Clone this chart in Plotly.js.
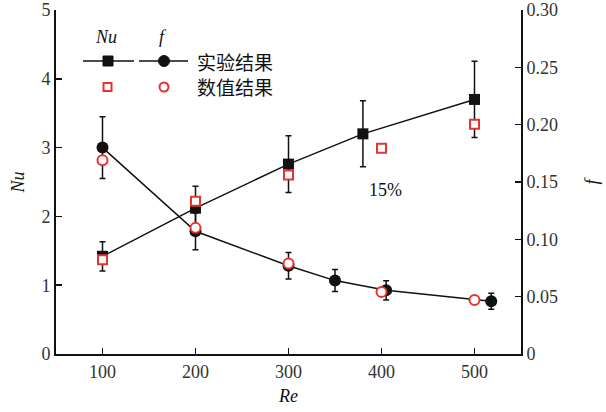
<!DOCTYPE html>
<html>
<head>
<meta charset="utf-8">
<script src="https://cdn.plot.ly/plotly-3.0.1.min.js"></script>
<style>html,body{margin:0;padding:0;background:#fff;}#chart{width:606px;height:412px;}</style>
</head>
<body>
<div id="chart"></div>
<script>
// Data
const reNuExp = [100, 200, 300, 380, 500];
const nuExp   = [1.42, 2.12, 2.76, 3.20, 3.70];
const reNuNum = [100, 200, 300, 400, 500];
const nuNum   = [1.37, 2.22, 2.60, 2.99, 3.34];
const reFExp  = [100, 200, 300, 350, 405, 518];
const fExp    = [0.180, 0.107, 0.077, 0.064, 0.0555, 0.046];
const reFNum  = [100, 200, 300, 400, 500];
const fNum    = [0.169, 0.110, 0.079, 0.054, 0.047];
const xTicks  = [100, 200, 300, 400, 500];
const yTicks  = [0, 1, 2, 3, 4, 5];
const y2Ticks = [0, 0.05, 0.10, 0.15, 0.20, 0.25, 0.30];
const y2Text  = ['0', '0.05', '0.10', '0.15', '0.20', '0.25', '0.30'];
const errPct  = 15;

const RED = '#e8322e';
const SERIF = 'Liberation Serif';
const CJK = 'Noto Sans CJK SC';

const errStyle = {type: 'percent', value: errPct, color: '#111', thickness: 1.5, width: 3};

const traces = [
  {x: reNuExp, y: nuExp, type: 'scatter', mode: 'lines+markers', yaxis: 'y',
   line: {color: '#111', width: 1.5},
   marker: {symbol: 'square', size: 11, color: '#111'},
   error_y: errStyle, showlegend: false},
  {x: reFExp, y: fExp, type: 'scatter', mode: 'lines+markers', yaxis: 'y2',
   line: {color: '#111', width: 1.5},
   marker: {symbol: 'circle', size: 12, color: '#111'},
   error_y: errStyle, showlegend: false},
  {x: reNuNum, y: nuNum, type: 'scatter', mode: 'markers', yaxis: 'y',
   marker: {symbol: 'square', size: 9, color: '#fff', line: {color: RED, width: 2}},
   showlegend: false},
  {x: reFNum, y: fNum, type: 'scatter', mode: 'markers', yaxis: 'y2',
   marker: {symbol: 'circle', size: 10, color: '#fff', line: {color: RED, width: 2}},
   showlegend: false}
];

// legend drawn in pixel positions converted to paper coords
const L = 56, R = 521, T = 10, B = 354;
const px = v => (v - L) / (R - L);
const py = v => (B - v) / (B - T);

const shapes = [
  {type: 'line', xref: 'paper', yref: 'paper', x0: px(83), x1: px(134), y0: py(61), y1: py(61), line: {color: '#111', width: 1.5}},
  {type: 'line', xref: 'paper', yref: 'paper', x0: px(139), x1: px(188), y0: py(61), y1: py(61), line: {color: '#111', width: 1.5}},
  {type: 'rect', xref: 'paper', yref: 'paper', x0: px(103), x1: px(113), y0: py(56), y1: py(66), fillcolor: '#111', line: {color: '#111', width: 1}},
  {type: 'circle', xref: 'paper', yref: 'paper', x0: px(158.5), x1: px(169.5), y0: py(55.5), y1: py(66.5), fillcolor: '#111', line: {color: '#111', width: 1}},
  {type: 'rect', xref: 'paper', yref: 'paper', x0: px(103.5), x1: px(111.5), y0: py(83), y1: py(91), fillcolor: '#fff', line: {color: RED, width: 2}},
  {type: 'circle', xref: 'paper', yref: 'paper', x0: px(159.5), x1: px(168.5), y0: py(82.5), y1: py(91.5), fillcolor: '#fff', line: {color: RED, width: 2}}
];

const ann = (x, y, text, font, xa) => ({xref: 'paper', yref: 'paper', x: px(x), y: py(y), text: text,
  showarrow: false, xanchor: xa || 'center', yanchor: 'middle', font: font});

const fSerif = {family: SERIF, size: 18, color: '#111'};
const fCjk = {family: CJK, size: 19, color: '#111'};

const annotations = [
  ann(106, 37, '<i>Nu</i>', fSerif),
  ann(163, 37, '<i>f</i>', fSerif),
  ann(195, 61, '实验结果', fCjk, 'left'),
  ann(195, 87, '数值结果', fCjk, 'left'),
  {xref: 'x', yref: 'y', x: 404, y: 2.38, text: '15%', showarrow: false,
   xanchor: 'center', yanchor: 'middle', font: {family: SERIF, size: 18, color: '#111'}}
];

const axisCommon = {
  showgrid: false, zeroline: false, showline: true, linecolor: '#111', linewidth: 2,
  ticks: 'inside', ticklen: 6, tickwidth: 1.5, tickcolor: '#111',
  tickfont: {family: SERIF, size: 18, color: '#333'}
};

const layout = {
  width: 606, height: 412,
  margin: {l: L, r: 606 - R, t: T, b: 412 - B, pad: 0},
  paper_bgcolor: '#fff', plot_bgcolor: '#fff',
  showlegend: false,
  xaxis: Object.assign({}, axisCommon, {
    range: [50, 550], tickvals: xTicks,
    title: {text: '<i>Re</i>', font: {family: SERIF, size: 18, color: '#111'}, standoff: 9}
  }),
  yaxis: Object.assign({}, axisCommon, {
    range: [0, 5], tickvals: yTicks,
    title: {text: '<i>Nu</i>', font: {family: SERIF, size: 18, color: '#111'}, standoff: 12}
  }),
  yaxis2: Object.assign({}, axisCommon, {
    range: [0, 0.3], tickvals: y2Ticks, ticktext: y2Text,
    overlaying: 'y', side: 'right',
    title: {text: '<i>f</i>', font: {family: SERIF, size: 18, color: '#111'}, standoff: 28}
  }),
  shapes: shapes,
  annotations: annotations
};

Plotly.newPlot('chart', traces, layout, {staticPlot: true, displayModeBar: false});
</script>
</body>
</html>
